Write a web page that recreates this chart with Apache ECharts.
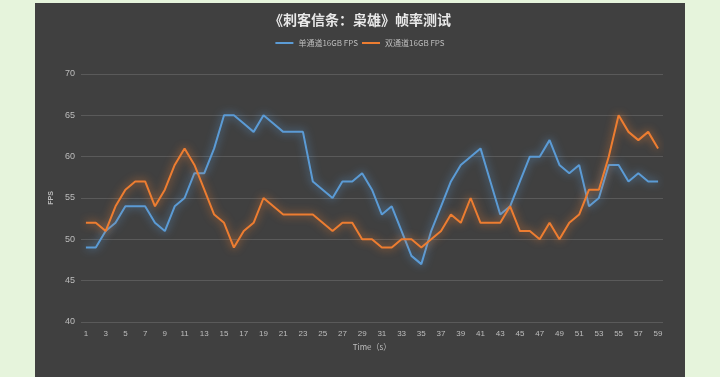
<!DOCTYPE html>
<html>
<head>
<meta charset="utf-8">
<script src="https://cdn.jsdelivr.net/npm/echarts@6/dist/echarts.min.js"></script>
<style>
  html, body { margin: 0; padding: 0; background: #e6f4dc; }
  #chart { width: 720px; height: 377px; }
</style>
</head>
<body>
<div id="chart"></div>
<script>
const seconds = Array.from({ length: 59 }, (_, i) => String(i + 1));
const singleChannel = [
  49, 49, 51, 52, 54, 54, 54, 52, 51, 54, 55, 58, 58, 61, 65, 65, 64, 63, 65, 64,
  63, 63, 63, 57, 56, 55, 57, 57, 58, 56, 53, 54, 51, 48, 47, 51, 54, 57, 59, 60,
  61, 57, 53, 54, 57, 60, 60, 62, 59, 58, 59, 54, 55, 59, 59, 57, 58, 57, 57
];
const dualChannel = [
  52, 52, 51, 54, 56, 57, 57, 54, 56, 59, 61, 59, 56, 53, 52, 49, 51, 52, 55, 54,
  53, 53, 53, 53, 52, 51, 52, 52, 50, 50, 49, 49, 50, 50, 49, 50, 51, 53, 52, 55,
  52, 52, 52, 54, 51, 51, 50, 52, 50, 52, 53, 56, 56, 60, 65, 63, 62, 63, 61
];
const seriesNames = ["单通道16GB FPS", "双通道16GB FPS"];

const chart = echarts.init(document.getElementById("chart"));
const textColor = "#bdbdbd";

chart.setOption({
  backgroundColor: "#e6f4dc",
  graphic: [
    { type: "rect", z: -10, shape: { x: 35, y: 3, width: 650, height: 380 }, style: { fill: "#404040" } }
  ],
  title: {
    text: "《刺客信条：枭雄》帧率测试",
    left: "center",
    top: 8,
    textStyle: { color: "#e8e8e8", fontSize: 14, fontWeight: "bold", fontFamily: "Noto Sans CJK SC" }
  },
  legend: {
    data: seriesNames,
    top: 34,
    left: "center",
    itemWidth: 18,
    itemHeight: 2,
    itemGap: 4,
    icon: "rect",
    textStyle: { color: textColor, fontSize: 8, fontFamily: "Noto Sans CJK SC" }
  },
  grid: { left: 81, right: 57, top: 74, bottom: 55 },
  xAxis: {
    type: "category",
    data: seconds,
    boundaryGap: true,
    name: "Time（s）",
    nameLocation: "middle",
    nameGap: 20,
    nameTextStyle: { color: textColor, fontSize: 8, fontFamily: "Noto Sans CJK SC" },
    axisLine: { show: false },
    axisTick: { show: false },
    axisLabel: { color: textColor, fontSize: 8, interval: 1, margin: 8 },
    splitLine: { show: false }
  },
  yAxis: {
    type: "value",
    min: 40,
    max: 70,
    interval: 5,
    name: "FPS",
    nameLocation: "middle",
    nameGap: 17,
    nameRotate: 90,
    nameTextStyle: { color: textColor, fontSize: 7, fontWeight: "bold" },
    axisLine: { show: false },
    axisTick: { show: false },
    axisLabel: { color: textColor, fontSize: 9, margin: 6 },
    splitLine: { lineStyle: { color: "#5a5a5a", width: 1 } }
  },
  series: [
    {
      name: seriesNames[0],
      type: "line",
      data: singleChannel,
      symbol: "none",
      lineStyle: { color: "#5b9bd5", width: 2, shadowColor: "rgba(91,155,213,0.9)", shadowBlur: 8 },
      itemStyle: { color: "#5b9bd5" }
    },
    {
      name: seriesNames[1],
      type: "line",
      data: dualChannel,
      symbol: "none",
      lineStyle: { color: "#ed7d31", width: 2, shadowColor: "rgba(237,125,49,0.9)", shadowBlur: 8 },
      itemStyle: { color: "#ed7d31" }
    }
  ]
});
</script>
</body>
</html>
